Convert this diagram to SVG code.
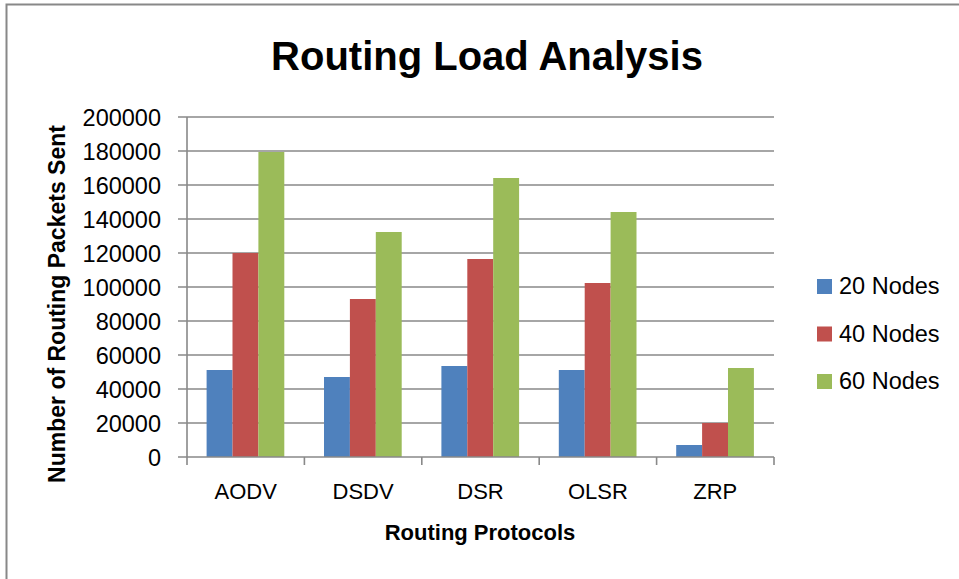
<svg xmlns="http://www.w3.org/2000/svg" width="959" height="579" viewBox="0 0 959 579">
<style>
.grid{stroke:#898989;stroke-width:1.6;fill:none}
.axis{stroke:#898989;stroke-width:1.6;fill:none}
.ylab{font-family:"Liberation Sans",Arial,sans-serif;font-size:23.5px;fill:#000;text-anchor:end}
.xlab{font-family:"Liberation Sans",Arial,sans-serif;font-size:22px;fill:#000;text-anchor:middle}
.leg{font-family:"Liberation Sans",Arial,sans-serif;font-size:23.5px;fill:#000}
.ttl{font-family:"Liberation Sans",Arial,sans-serif;font-weight:bold;fill:#000;text-anchor:middle}
.s1{fill:#4F81BD}
.s2{fill:#C0504D}
.s3{fill:#9BBB59}
</style>
<rect x="0" y="0" width="959" height="579" fill="#fff"/>
<path d="M6.5 579 V4.5 H959" stroke="#888" stroke-width="2" fill="none"/>
<text id="title" class="ttl" x="487" y="70" font-size="40">Routing Load Analysis</text>
<g id="gridlines">
<path class="grid" d="M178 117H774M178 151H774M178 185H774M178 219H774M178 253H774M178 287H774M178 321H774M178 355H774M178 389H774M178 423H774"/>
</g>
<g id="bars">
<rect class="s1" x="206.6" y="370" width="25.9" height="87"/>
<rect class="s2" x="232.5" y="253" width="25.9" height="204"/>
<rect class="s3" x="258.4" y="152" width="25.9" height="305"/>
<rect class="s1" x="324" y="377" width="25.9" height="80"/>
<rect class="s2" x="349.9" y="299" width="25.9" height="158"/>
<rect class="s3" x="375.8" y="232" width="25.9" height="225"/>
<rect class="s1" x="441.4" y="366" width="25.9" height="91"/>
<rect class="s2" x="467.3" y="259" width="25.9" height="198"/>
<rect class="s3" x="493.2" y="178" width="25.9" height="279"/>
<rect class="s1" x="558.8" y="370" width="25.9" height="87"/>
<rect class="s2" x="584.7" y="283" width="25.9" height="174"/>
<rect class="s3" x="610.6" y="212" width="25.9" height="245"/>
<rect class="s1" x="676.2" y="445" width="25.9" height="12"/>
<rect class="s2" x="702.1" y="423" width="25.9" height="34"/>
<rect class="s3" x="728" y="368" width="25.9" height="89"/>
</g>
<g id="axes">
<path class="axis" d="M187 117V465M178 457H774M304.4 457V465M421.8 457V465M539.2 457V465M656.6 457V465M774 457V465"/>
</g>
<g id="ylabels">
<text class="ylab" x="161" y="126">200000</text>
<text class="ylab" x="161" y="160">180000</text>
<text class="ylab" x="161" y="194">160000</text>
<text class="ylab" x="161" y="228">140000</text>
<text class="ylab" x="161" y="262">120000</text>
<text class="ylab" x="161" y="296">100000</text>
<text class="ylab" x="161" y="330">80000</text>
<text class="ylab" x="161" y="364">60000</text>
<text class="ylab" x="161" y="398">40000</text>
<text class="ylab" x="161" y="432">20000</text>
<text class="ylab" x="161" y="466">0</text>
</g>
<g id="xlabels">
<text class="xlab" x="245.7" y="499">AODV</text>
<text class="xlab" x="363.1" y="499">DSDV</text>
<text class="xlab" x="480.5" y="499">DSR</text>
<text class="xlab" x="597.9" y="499">OLSR</text>
<text class="xlab" x="715.3" y="499">ZRP</text>
</g>
<text id="xtitle" class="ttl" x="480" y="540" font-size="22">Routing Protocols</text>
<text id="ytitle" class="ttl" font-size="23" transform="translate(65 304) rotate(-90)">Number of Routing Packets Sent</text>
<g id="legend">
<rect class="s1" x="817" y="279" width="15" height="15"/>
<text class="leg" x="839" y="294">20 Nodes</text>
<rect class="s2" x="817" y="326.5" width="15" height="15"/>
<text class="leg" x="839" y="341.5">40 Nodes</text>
<rect class="s3" x="817" y="374" width="15" height="15"/>
<text class="leg" x="839" y="389">60 Nodes</text>
</g>
</svg>
